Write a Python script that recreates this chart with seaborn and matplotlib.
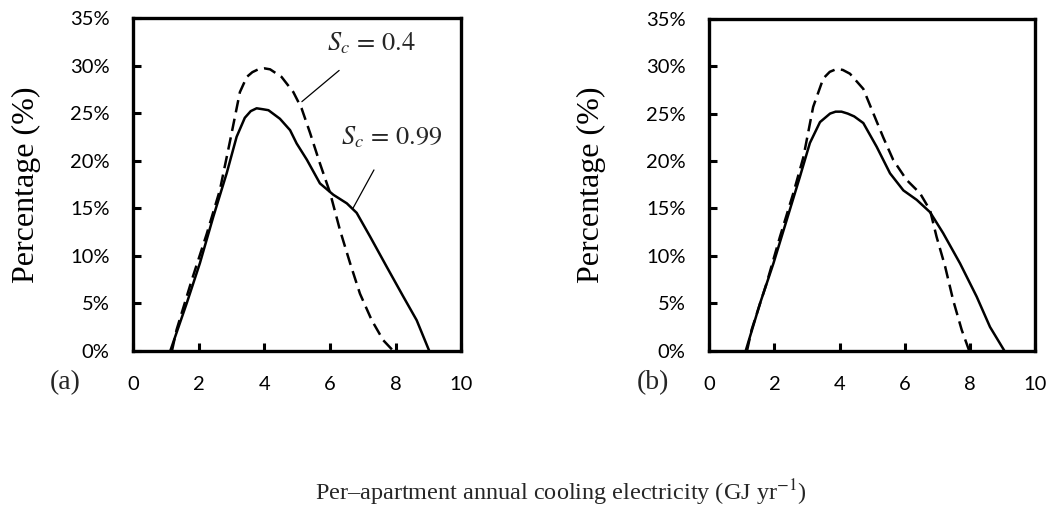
import matplotlib
matplotlib.use("Agg")
import matplotlib.pyplot as plt
import seaborn as sns
import pandas as pd
from matplotlib.ticker import FuncFormatter

sns.set_theme(style="white")
plt.rcParams["font.family"] = ["Lato", "DejaVu Sans"]
plt.rcParams["mathtext.fontset"] = "stix"

# Panel (a): share of apartments (%) by annual cooling electricity (GJ/yr)
a_solid_x = [1.13, 1.63, 2.03, 2.44, 2.85, 3.15, 3.40, 3.58, 3.76, 3.95, 4.12, 4.47,
             4.78, 4.98, 5.29, 5.69, 6.10, 6.51, 6.81, 7.22, 7.73, 8.23, 8.64, 9.02]
a_solid_y = [0.0, 5.0, 9.2, 14.1, 18.7, 22.5, 24.5, 25.2, 25.5, 25.4, 25.3, 24.4,
             23.2, 21.8, 20.1, 17.6, 16.4, 15.5, 14.5, 12.0, 8.8, 5.7, 3.2, 0.0]
a_dash_x = [1.18, 1.32, 1.78, 2.24, 2.64, 2.97, 3.25, 3.46, 3.63, 3.81, 4.0, 4.17,
            4.52, 4.88, 5.13, 5.39, 5.69, 6.00, 6.30, 6.61, 6.91, 7.27, 7.62, 7.92]
a_dash_y = [0.0, 2.2, 7.4, 12.3, 16.9, 22.4, 27.2, 28.8, 29.3, 29.6, 29.7, 29.6,
            28.8, 27.2, 25.5, 22.9, 19.7, 16.6, 12.7, 9.2, 6.0, 3.2, 1.1, 0.0]

# Panel (b)
b_solid_x = [1.12, 1.56, 1.97, 2.38, 2.78, 3.09, 3.40, 3.71, 3.88, 4.06, 4.25, 4.45,
             4.73, 5.14, 5.55, 5.96, 6.37, 6.78, 7.18, 7.70, 8.21, 8.62, 9.06]
b_solid_y = [0.0, 5.0, 9.2, 13.8, 18.3, 21.9, 24.1, 25.0, 25.2, 25.2, 25.0, 24.7,
             24.0, 21.5, 18.7, 16.9, 15.9, 14.6, 12.4, 9.2, 5.7, 2.5, 0.0]
b_dash_x = [1.16, 1.30, 1.76, 2.17, 2.58, 2.89, 3.19, 3.50, 3.70, 3.91, 4.10, 4.32,
            4.73, 5.04, 5.34, 5.65, 6.06, 6.47, 6.78, 6.98, 7.24, 7.49, 7.75, 7.98]
b_dash_y = [0.0, 2.2, 7.1, 12.0, 16.6, 20.4, 25.7, 28.7, 29.4, 29.7, 29.6, 29.2,
            27.6, 25.0, 22.5, 20.1, 18.0, 16.6, 14.8, 12.0, 8.9, 5.3, 2.2, 0.0]

x_ticks = [0, 2, 4, 6, 8, 10]
y_ticks = [0, 5, 10, 15, 20, 25, 30, 35]
panel_tags = ["(a)", "(b)"]

fig = plt.figure(figsize=(10.52, 5.17), dpi=100)
ax_a = fig.add_axes([0.1267, 0.3217, 0.3118, 0.6435])
ax_b = fig.add_axes([0.6742, 0.3217, 0.3096, 0.6421])

serif = ["Liberation Serif", "DejaVu Serif"]


def draw_panel(ax, sx, sy, dx, dy, tag, label_x, tag_x):
    solid = pd.DataFrame({"x": sx, "y": sy})
    dash = pd.DataFrame({"x": dx, "y": dy})
    sns.lineplot(data=dash, x="x", y="y", ax=ax, color="black", lw=1.8,
                 linestyle=(0, (5.0, 2.6)), sort=False, estimator=None)
    sns.lineplot(data=solid, x="x", y="y", ax=ax, color="black", lw=1.8,
                 sort=False, estimator=None)
    ax.set_xlim(0, 10)
    ax.set_ylim(0, 35)
    ax.set_xticks(x_ticks)
    ax.set_yticks(y_ticks)
    ax.yaxis.set_major_formatter(FuncFormatter(lambda v, p: f"{v:.0f}%"))
    ax.tick_params(axis="both", direction="in", length=6, width=2.2,
                   labelsize=14.5, colors="black")
    ax.tick_params(axis="x", pad=18)
    ax.tick_params(axis="y", pad=17)
    ax.tick_params(top=False, right=False, bottom=True, left=True)
    for s in ax.spines.values():
        s.set_linewidth(2.4)
        s.set_color("black")
        s.set_visible(True)
    ax.set_xlabel("")
    ax.set_ylabel("Percentage (%)", fontsize=23, family=serif, color="black")
    ax.yaxis.set_label_coords(label_x, 0.5)
    ax.text(tag_x, -0.096, tag, transform=ax.transAxes, fontsize=20,
            family=serif, ha="center", va="center")


draw_panel(ax_a, a_solid_x, a_solid_y, a_dash_x, a_dash_y, panel_tags[0], -0.282, -0.208)
draw_panel(ax_b, b_solid_x, b_solid_y, b_dash_x, b_dash_y, panel_tags[1], -0.318, -0.173)

# Curve labels in panel (a)
ax_a.annotate(r"$S_c\,=\,0.4$", xy=(5.14, 26.2), xytext=(7.25, 32.3),
              fontsize=19, ha="center", va="center",
              arrowprops=dict(arrowstyle="-", color="black", lw=0.9,
                              shrinkA=12, shrinkB=0))
ax_a.annotate(r"$S_c\,=\,0.99$", xy=(6.70, 15.0), xytext=(7.89, 22.5),
              fontsize=19, ha="center", va="center",
              arrowprops=dict(arrowstyle="-", color="black", lw=0.9,
                              shrinkA=14, shrinkB=0))

fig.text(0.533, 0.047, r"Per–apartment annual cooling electricity (GJ yr$^{-1}$)",
         fontsize=17.5, family=serif, ha="center", va="center")

fig.savefig("out.png", dpi=100)
